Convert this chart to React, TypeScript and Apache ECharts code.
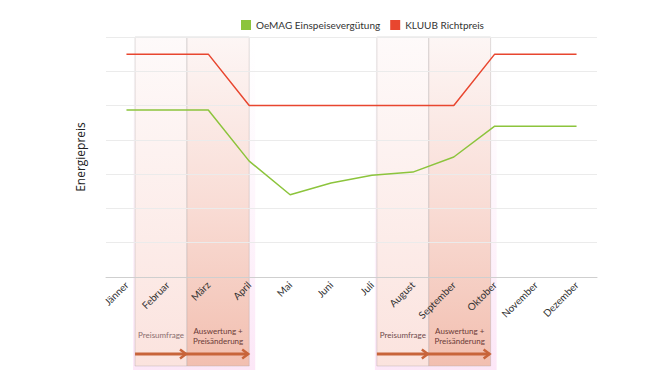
import React, { useEffect, useRef } from "react";
import * as echarts from "echarts";

const months = ["Jänner", "Februar", "März", "April", "Mai", "Juni", "Juli", "August", "September", "Oktober", "November", "Dezember"];
const oemag = [4.87, 4.87, 4.87, 3.38, 2.4, 2.74, 2.97, 3.06, 3.5, 4.4, 4.4, 4.4];
const kluub = [6.5, 6.5, 6.5, 5.0, 5.0, 5.0, 5.0, 5.0, 5.0, 6.5, 6.5, 6.5];
const yTicks = [0, 1, 2, 3, 4, 5, 6, 7];
// phases in category-index units (0 = centre of Jänner)
const phases = [
  { from: 0.21, mid: 1.48, to: 3.0, survey: "Preisumfrage", change: "Auswertung +\nPreisänderung", surveyColor: "#8a6e6e" },
  { from: 6.12, mid: 7.39, to: 8.9, survey: "Preisumfrage", change: "Auswertung +\nPreisänderung", surveyColor: "#6e4a4a" },
];

export default function App() {
  const ref = useRef<HTMLDivElement>(null);
  useEffect(() => {
    const chart = echarts.init(ref.current!, null, { renderer: "svg" });
    const font = "Lato, 'Open Sans', sans-serif";
    chart.setOption({
      animation: false,
      backgroundColor: "#ffffff",
      legend: {
        left: 236,
        top: 15,
        itemWidth: 10,
        itemHeight: 10,
        itemGap: 10,
        icon: "rect",
        textStyle: { fontSize: 10, color: "#333", fontFamily: font },
        data: ["OeMAG Einspeisevergütung", "KLUUB Richtpreis"],
      },
      grid: { left: 106, right: 73, top: 37, bottom: 99 },
      xAxis: {
        type: "category",
        data: months,
        boundaryGap: true,
        axisTick: { show: false },
        axisLine: { lineStyle: { color: "#cfcfcf" } },
        axisLabel: { rotate: 45, fontSize: 10, color: "#333", margin: 6, fontFamily: font, interval: 0 },
        splitLine: { show: false },
      },
      yAxis: {
        type: "value",
        min: yTicks[0],
        max: yTicks[yTicks.length - 1],
        interval: 1,
        axisLabel: { show: false },
        axisLine: { show: false },
        axisTick: { show: false },
        splitLine: { lineStyle: { color: "#ebebeb" } },
        name: "Energiepreis",
        nameLocation: "middle",
        nameGap: 20,
        nameTextStyle: { fontSize: 12, color: "#222", fontFamily: "'Open Sans', sans-serif" },
      },
      series: [
        {
          name: "OeMAG Einspeisevergütung",
          type: "line",
          data: oemag,
          showSymbol: false,
          symbol: "none",
          z: 5,
          lineStyle: { color: "#8cc43c", width: 1.5 },
          itemStyle: { color: "#8cc43c" },
        },
        {
          name: "KLUUB Richtpreis",
          type: "line",
          data: kluub,
          showSymbol: false,
          symbol: "none",
          z: 5,
          lineStyle: { color: "#e8462f", width: 1.5 },
          itemStyle: { color: "#e8462f" },
        },
      ],
    });

    const x0 = chart.convertToPixel({ xAxisIndex: 0 }, 0) as number;
    const x1 = chart.convertToPixel({ xAxisIndex: 0 }, 1) as number;
    const px = (v: number) => x0 + v * (x1 - x0);
    const top = chart.convertToPixel({ yAxisIndex: 0 }, yTicks[yTicks.length - 1]) as number;
    const bottom = 366;
    const arrowY = 354;
    const arrowColor = "#c8643a";
    const elements: any[] = [];
    phases.forEach((p) => {
      const a = px(p.from), m = px(p.mid), b = px(p.to);
      elements.push({
        type: "rect", z: -10, silent: true,
        shape: { x: a - 2, y: top, width: b - a + 8, height: bottom - top + 4 },
        style: {
          fill: new echarts.graphic.LinearGradient(0, 0, 0, 1, [
            { offset: 0, color: "rgba(253,240,250,0)" },
            { offset: 1, color: "rgba(252,228,246,0.9)" },
          ]),
        },
      });
      elements.push({
        type: "rect", z: -9, silent: true,
        shape: { x: a, y: top, width: m - a, height: bottom - top },
        style: {
          fill: new echarts.graphic.LinearGradient(0, 0, 0, 1, [
            { offset: 0, color: "#fefafa" },
            { offset: 1, color: "#fbe3de" },
          ]),
          stroke: "rgba(170,160,160,0.35)",
          lineWidth: 1,
        },
      });
      elements.push({
        type: "rect", z: -9, silent: true,
        shape: { x: m, y: top, width: b - m, height: bottom - top },
        style: {
          fill: new echarts.graphic.LinearGradient(0, 0, 0, 1, [
            { offset: 0, color: "#fdf6f5" },
            { offset: 0.5, color: "#f9ddd6" },
            { offset: 1, color: "#f2bfb0" },
          ]),
          stroke: "rgba(170,160,160,0.35)",
          lineWidth: 1,
        },
      });
      elements.push({
        type: "text", z: 10, silent: true,
        x: (a + m) / 2, y: 335,
        style: { text: p.survey, fill: p.surveyColor, fontSize: 8, fontFamily: font, align: "center", verticalAlign: "middle" },
      });
      elements.push({
        type: "text", z: 10, silent: true,
        x: (m + b) / 2, y: 335.5,
        style: { text: p.change, fill: "#6b3a36", fontSize: 8, lineHeight: 10, fontFamily: font, align: "center", verticalAlign: "middle" },
      });
      elements.push({
        type: "line", z: 10, silent: true,
        shape: { x1: a, y1: arrowY, x2: b - 1, y2: arrowY },
        style: { stroke: arrowColor, lineWidth: 3 },
      });
      [m, b].forEach((x) => {
        elements.push({
          type: "polyline", z: 10, silent: true,
          shape: { points: [[x - 7, arrowY - 4.5], [x - 1, arrowY], [x - 7, arrowY + 4.5]] },
          style: { stroke: arrowColor, lineWidth: 2.5, fill: null },
        });
      });
    });
    chart.setOption({ graphic: { elements } });
    return () => chart.dispose();
  }, []);
  return <div ref={ref} style={{ position: "fixed", left: 0, top: 0, width: 670, height: 376 }} />;
}
